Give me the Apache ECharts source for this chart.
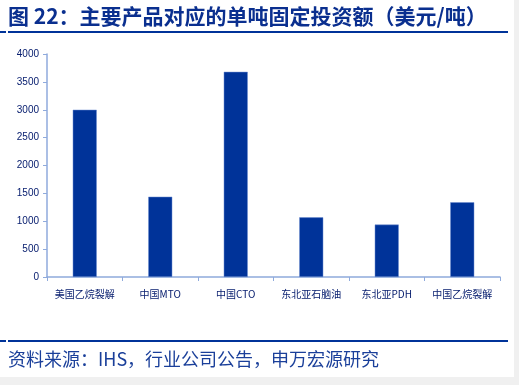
<!DOCTYPE html>
<html><head><meta charset="utf-8">
<script src="https://cdn.jsdelivr.net/npm/echarts@6/dist/echarts.min.js"></script>
<style>html,body{margin:0;padding:0;background:#f0f0f0;}#c{width:519px;height:385px;}</style>
</head><body><div id="c"></div>
<script>
const categories = ['美国乙烷裂解','中国MTO','中国CTO','东北亚石脑油','东北亚PDH','中国乙烷裂解'];
const values = [3000, 1440, 3680, 1070, 940, 1340];
const yTicks = [0, 500, 1000, 1500, 2000, 2500, 3000, 3500, 4000];
const titleText = '图 22：主要产品对应的单吨固定投资额（美元/吨）';
const sourceText = '资料来源：IHS，行业公司公告，申万宏源研究';

const chart = echarts.init(document.getElementById('c'));
const font = '"Noto Sans CJK SC", "Noto Sans", sans-serif';
chart.setOption({
  backgroundColor: 'transparent',
  animation: false,
  graphic: [
    {type:'rect', shape:{x:0,y:0,width:514,height:377}, style:{fill:'#ffffff'}, z:-10},
    {type:'text', left:8, top:6, style:{text:titleText, font:'bold 21px ' + font, fill:'#0a2f8f'}},
    {type:'rect', shape:{x:0,y:31,width:6,height:2}, style:{fill:'#003399'}},
    {type:'rect', shape:{x:8,y:31,width:500,height:2}, style:{fill:'#003399'}},
    {type:'rect', shape:{x:0,y:340,width:6,height:2}, style:{fill:'#003399'}},
    {type:'rect', shape:{x:8,y:340,width:500,height:2}, style:{fill:'#003399'}},
    {type:'text', left:8, top:350, style:{text:sourceText, font:'18px ' + font, fill:'#1a3f9a'}}
  ],
  grid: {left:47, right:19, top:54, bottom:108},
  xAxis: {
    type:'category', data:categories,
    axisLine:{lineStyle:{color:'#8faadc', width:1.5}},
    axisTick:{show:true, length:4, lineStyle:{color:'#8faadc'}},
    axisLabel:{color:'#0a2070', fontSize:10, fontFamily:font, margin:12, interval:0}
  },
  yAxis: {
    type:'value', min:yTicks[0], max:yTicks[yTicks.length-1], interval:500,
    axisLine:{show:true, lineStyle:{color:'#8faadc', width:1.5}},
    axisTick:{show:true, length:4, lineStyle:{color:'#8faadc'}},
    splitLine:{show:false},
    axisLabel:{color:'#0a2070', fontSize:10, fontFamily:'Arial, "Liberation Sans", sans-serif', margin:8,
      formatter: function(v){ return String(v); }}
  },
  series: [{
    type:'bar', data:values, barWidth:24,
    itemStyle:{color:'#003399', borderColor:'#6f8fd0', borderWidth:0.5}
  }]
});
</script></body></html>
